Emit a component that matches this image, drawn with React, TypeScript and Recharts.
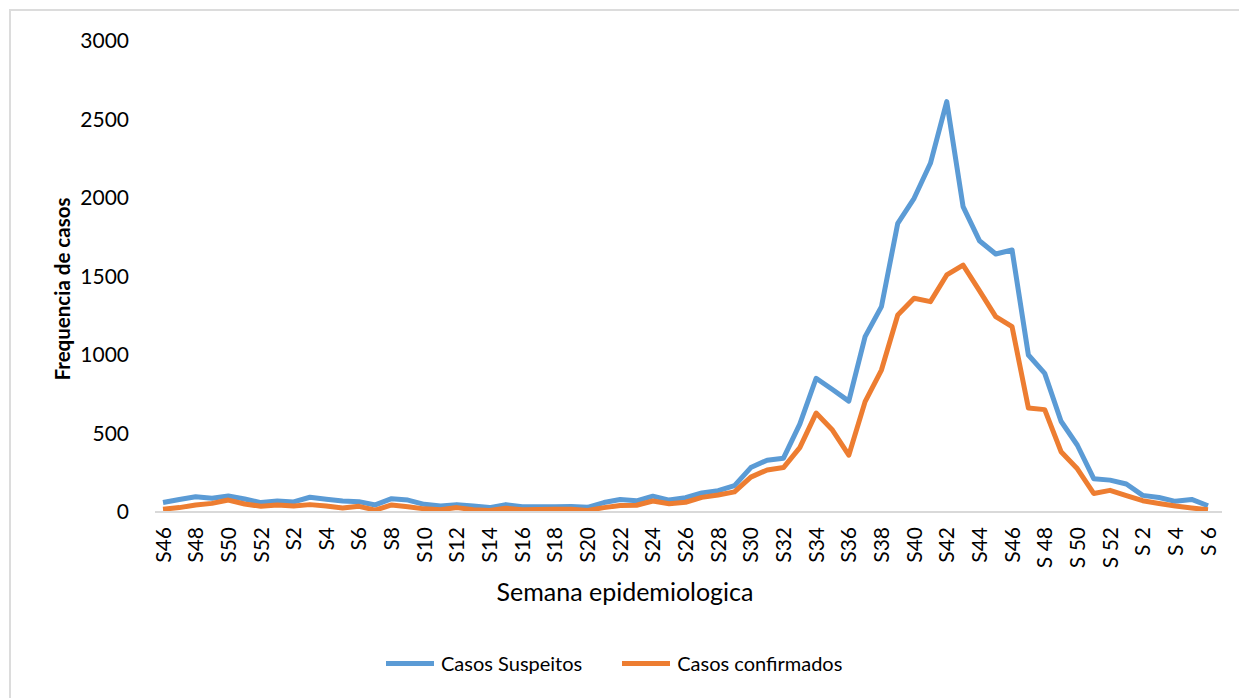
import React from 'react';
import { LineChart, Line, XAxis, YAxis, Legend } from 'recharts';

// Semanas epidemiologicas (3 anos seguidos)
const weeks = [
  'S46', 'S47', 'S48', 'S49', 'S50', 'S51', 'S52',
  'S1', 'S2', 'S3', 'S4', 'S5', 'S6', 'S7', 'S8', 'S9', 'S10',
  'S11', 'S12', 'S13', 'S14', 'S15', 'S16', 'S17', 'S18', 'S19', 'S20',
  'S21', 'S22', 'S23', 'S24', 'S25', 'S26', 'S27', 'S28', 'S29', 'S30',
  'S31', 'S32', 'S33', 'S34', 'S35', 'S36', 'S37', 'S38', 'S39', 'S40',
  'S41', 'S42', 'S43', 'S44', 'S45', 'S46',
  'S 47', 'S 48', 'S 49', 'S 50', 'S 51', 'S 52',
  'S 1', 'S 2', 'S 3', 'S 4', 'S 5', 'S 6',
];

const suspeitos = [
  60, 80, 97, 87, 102, 83, 60,
  70, 64, 94, 81, 70, 66, 45, 85, 76, 49, 38, 47, 38, 28, 47,
  33, 33, 33, 35, 30,
  60, 80, 71, 101, 76, 91, 121, 136, 168,
  283, 330, 343, 560, 852, 780, 706, 1117, 1308,
  1839, 1998, 2221, 2614, 1945, 1728, 1643, 1669,
  1000, 883, 578, 425, 212, 203,
  178, 106, 92, 68, 80, 40,
];

const confirmados = [
  18, 28, 45, 55, 76, 51, 36,
  45, 38, 47, 38, 25, 36, 12, 45, 34, 20, 15, 28, 14, 10, 24,
  15, 16, 18, 17, 10,
  28, 42, 43, 70, 52, 62, 93, 108, 128,
  222, 268, 283, 410, 630, 522, 362, 703, 904,
  1255, 1361, 1340, 1510, 1573, 1410, 1244, 1180,
  663, 652, 384, 275, 118, 138,
  104, 72, 54, 38, 26, 15,
];

const yTicks = [0, 500, 1000, 1500, 2000, 2500, 3000];

const data = weeks.map((week, i) => ({
  week,
  suspeitos: suspeitos[i],
  confirmados: confirmados[i],
}));

const FONT = 'Lato, "Open Sans", sans-serif';

const WeekTick = (props: any) => {
  const { x, y, payload } = props;
  return (
    <text
      x={x}
      y={y}
      transform={`rotate(-90 ${x} ${y})`}
      textAnchor="end"
      dy="0.36em"
      fontSize={21}
      fontFamily={FONT}
      fill="#000"
    >
      {payload.value}
    </text>
  );
};

const LegendContent = (props: any) => (
  <div style={{ display: 'flex', alignItems: 'center', height: 36, fontFamily: FONT, fontSize: 20, color: '#000' }}>
    {(props.payload || []).map((p: any) => (
      <div key={p.value} style={{ display: 'flex', alignItems: 'center', marginRight: 40 }}>
        <span style={{ display: 'inline-block', width: 48, height: 5, background: p.color, marginRight: 7 }} />
        <span>{p.value}</span>
      </div>
    ))}
  </div>
);

export default function App() {
  return (
    <div style={{ position: 'relative', width: 1239, height: 698, overflow: 'hidden', background: '#fff' }}>
      <style>{'body{margin:0;overflow:hidden;}'}</style>
      <div
        style={{
          position: 'absolute',
          left: 9,
          top: 9,
          width: 1400,
          height: 900,
          border: '2px solid #dcdcdc',
        }}
      />
      <div style={{ position: 'absolute', left: 0, top: 0 }}>
        <LineChart
          width={1239}
          height={698}
          data={data}
          margin={{ top: 41, right: 17, left: 0, bottom: 80 }}
        >
          <XAxis
            dataKey="week"
            interval={1}
            height={70}
            padding={{ left: 8, right: 14 }}
            tickLine={false}
            tickSize={0}
            tickMargin={15}
            axisLine={{ stroke: '#d9d9d9', strokeWidth: 2 }}
            tick={<WeekTick />}
          />
          <YAxis
            width={155}
            domain={[0, 3000]}
            ticks={yTicks}
            axisLine={false}
            tickLine={false}
            tickSize={0}
            tickMargin={26}
            tick={{ fontSize: 21, fontFamily: FONT, fill: '#000' }}
          />
          <Legend
            verticalAlign="bottom"
            content={<LegendContent />}
            wrapperStyle={{ left: 386, top: 645, width: 600 }}
          />
          <Line
            type="linear"
            dataKey="suspeitos"
            name="Casos Suspeitos"
            stroke="#5b9bd5"
            strokeWidth={5}
            strokeLinejoin="round"
            dot={false}
            isAnimationActive={false}
          />
          <Line
            type="linear"
            dataKey="confirmados"
            name="Casos confirmados"
            stroke="#ed7d31"
            strokeWidth={5}
            strokeLinejoin="round"
            dot={false}
            isAnimationActive={false}
          />
          <text
            x={62}
            y={289}
            transform="rotate(-90 62 289)"
            textAnchor="middle"
            dominantBaseline="central"
            fontSize={20.5}
            fontWeight={700}
            fontFamily={FONT}
            fill="#000"
          >
            Frequencia de casos
          </text>
          <text
            x={625}
            y={591}
            textAnchor="middle"
            dominantBaseline="central"
            fontSize={25}
            fontFamily={FONT}
            fill="#000"
          >
            Semana epidemiologica
          </text>
        </LineChart>
      </div>
    </div>
  );
}
